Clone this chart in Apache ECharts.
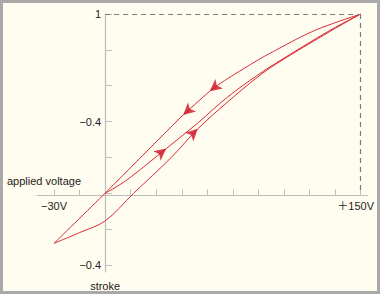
<!DOCTYPE html>
<html>
<head>
<meta charset="utf-8">
<script src="https://cdn.jsdelivr.net/npm/echarts@6/dist/echarts.min.js"></script>
<style>
html,body{margin:0;padding:0;background:#fff;}
#wrap{width:380px;height:294px;box-sizing:border-box;border:3px solid #a9a9a9;background:#fffdf0;}
#c{width:374px;height:288px;}
</style>
</head>
<body>
<div id="wrap"><div id="c"></div></div>
<script>
// ---- data (voltage in V, normalized stroke) ----
// initial curve: 0V -> +150V
const initialV   = [0, 8.1, 15.6, 35.9, 54.4, 71.8, 89.2, 100.8, 132.6, 150];
const initialS   = [0, 0.044, 0.094, 0.249, 0.392, 0.536, 0.657, 0.729, 0.912, 1];
// descending branch: +150V -> -30V
const descendV   = [150, 137, 123.9, 112, 100.8, 92, 83.4, 74, 66.0, 61.4, 52.5, 44.0, 0, -30];
const descendS   = [1, 0.958, 0.912, 0.858, 0.801, 0.756, 0.707, 0.652, 0.602, 0.569, 0.494, 0.420, 0, -0.28];
// ascending branch: -30V -> +150V
const ascendV    = [-30, -15, 0, 16.8, 38.8, 54.4, 71.8, 89.2, 100.8, 132.6, 150];
const ascendS    = [-0.28, -0.22, -0.155, 0, 0.199, 0.359, 0.508, 0.646, 0.724, 0.906, 1];
// arrows: voltage position along a branch
const arrowBranch = ['descend', 'descend', 'initial', 'ascend'];
const arrowV      = [61.4, 45.8, 35.9, 54.4];
// peak reference (dashed guide)
const peakV = 150, peakS = 1;
// axis ticks and labels
const xTicks = [-30, -15, 0, 15, 30, 45, 60, 75, 90, 105, 120, 135, 150];
const xLabelValues = [-30, 150];
const xLabelTexts  = ['−30V', '＋150V'];
const yTicks = [1, 0.8, 0.6, 0.4, 0.2, 0, -0.2, -0.4];
const yLabelValues = [1, 0.4, -0.4];
const yLabelTexts  = ['1', '−0.4', '−0.4'];
const xName = 'applied voltage';
const yName = 'stroke';

const branches = {
  initial: {v: initialV, s: initialS, smooth: 0.35},
  descend: {v: descendV, s: descendS, smooth: 0.25},
  ascend:  {v: ascendV,  s: ascendS, smooth: 0.35}
};
function pairs(b){ return b.v.map((v,i)=>[v, b.s[i]]); }
function interp(b, x){
  const pts = pairs(b).slice().sort((a,c)=>a[0]-c[0]);
  for (let i=0;i<pts.length-1;i++){
    if (x>=pts[i][0] && x<=pts[i+1][0]){
      const t=(x-pts[i][0])/(pts[i+1][0]-pts[i][0]);
      return pts[i][1]+t*(pts[i+1][1]-pts[i][1]);
    }
  }
  return pts[pts.length-1][1];
}
const arrowDir = {initial: 1, ascend: 1, descend: -1};

const RED = '#d62a36';
const AXIS = '#bcbcbc';
const FONT = 'Liberation Sans, Arial, Noto Sans CJK JP, sans-serif';
const chart = echarts.init(document.getElementById('c'), null, {renderer:'svg'});

function lineSeries(name, b){
  return {
    name, type:'line', data: pairs(b), smooth: b.smooth, showSymbol:false, symbol:'none',
    lineStyle:{color:RED, width:1}, itemStyle:{color:RED}, animation:false,
    silent:true, emphasis:{disabled:true}
  };
}

const option = {
  animation:false,
  tooltip:{show:false},
  grid:{left:34, right:5, top:11, bottom:16},
  xAxis:{
    type:'value', min:-40, max:154, position:'bottom', offset:0,
    axisLine:{onZero:false, lineStyle:{color:AXIS, width:1.2}},
    axisTick:{show:true, inside:true, length:6, customValues:xTicks, lineStyle:{color:AXIS}},
    axisLabel:{customValues:xLabelValues, margin:5, color:'#222', fontSize:11, fontFamily:FONT,
      formatter:(v)=>{const i=xLabelValues.indexOf(v); return i===1 ? '{r|'+xLabelTexts[i]+'}' : xLabelTexts[i];},
      rich:{r:{padding:[0,10,0,0], color:'#222', fontSize:11, fontFamily:FONT}}},
    splitLine:{show:false}, axisPointer:{show:false}
  },
  yAxis:{
    type:'value', min:-0.44, max:1, position:'left', offset:0,
    name:yName, nameLocation:'start', nameGap:8,
    nameTextStyle:{color:'#222', fontSize:11, fontFamily:FONT, verticalAlign:'top'},
    axisLine:{onZero:false, lineStyle:{color:AXIS, width:1.2}},
    axisTick:{show:true, inside:true, length:7, customValues:yTicks, lineStyle:{color:AXIS}},
    axisLabel:{customValues:yLabelValues, margin:4, color:'#222', fontSize:11, fontFamily:FONT,
      formatter:(v)=>{let i=yLabelValues.findIndex(q=>Math.abs(q-v)<1e-6); return i>=0?yLabelTexts[i]:'';}},
    splitLine:{show:false}, axisPointer:{show:false}
  },
  graphic:[{type:'text', left:4, top:172, silent:true, style:{text:xName, fill:'#222', font:'11px '+FONT}}],
  series:[
    lineSeries('initial', branches.initial),
    lineSeries('descend', branches.descend),
    lineSeries('ascend', branches.ascend),
    {
      name:'guide', type:'line', data:[], z:1, animation:false, silent:true,
      markLine:{silent:true, symbol:'none', label:{show:false}, emphasis:{disabled:true},
        lineStyle:{color:'#7a7a7a', type:[5,4], width:1.2},
        data:[[{coord:[0,peakS]},{coord:[peakV,peakS]}],[{coord:[peakV,peakS]},{coord:[peakV,0]}]]}
    }
  ]
};
chart.setOption(option);

// move the axes so they cross at zero
const z = chart.convertToPixel({gridIndex:0}, [0,0]);
const bl = chart.convertToPixel({gridIndex:0}, [-40,-0.44]);
const xOff = -(bl[1]-z[1]);
const yOff = -(z[0]-bl[0]);

// arrows, oriented along their branch in screen space
const arrowData = arrowV.map((v,i)=>{
  const b = branches[arrowBranch[i]];
  const d = arrowDir[arrowBranch[i]];
  const p1 = chart.convertToPixel({gridIndex:0}, [v-3, interp(b, v-3)]);
  const p2 = chart.convertToPixel({gridIndex:0}, [v+3, interp(b, v+3)]);
  const dx = (p2[0]-p1[0])*d, dy = (p2[1]-p1[1])*d;
  const ang = Math.atan2(-dy, dx)*180/Math.PI;
  return {value:[v, interp(b, v)], symbolRotate: ang-90};
});
chart.setOption({
  xAxis:{offset:xOff},
  yAxis:{offset:yOff},
  series:[{}, {}, {}, {}, {
    name:'arrows', type:'scatter', data:arrowData, symbol:'arrow', symbolSize:[9,12],
    itemStyle:{color:'#cc0f1e'}, z:5, animation:false, silent:true, emphasis:{disabled:true}
  }]
});
</script>
</body>
</html>
